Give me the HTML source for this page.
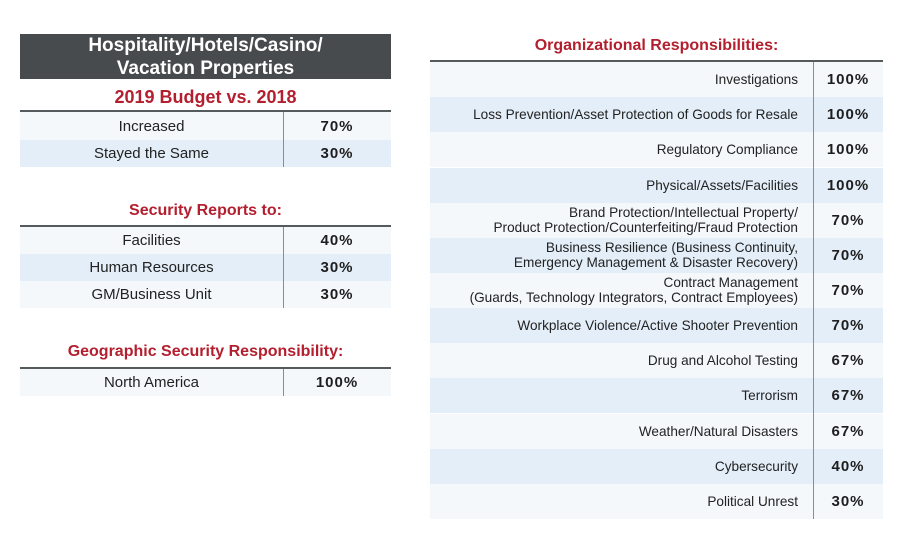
<!DOCTYPE html>
<html>
<head>
<meta charset="utf-8">
<style>
  html,body{margin:0;padding:0;background:#fff;}
  body{width:900px;height:550px;position:relative;overflow:hidden;font-family:"Liberation Sans",Arial,sans-serif;color:#222;}
  .abs{position:absolute;}
  .title{left:20px;top:34px;width:371px;height:45px;background:#474b4d;color:#fff;font-weight:bold;font-size:19px;line-height:23px;text-align:center;display:flex;flex-direction:column;justify-content:center;}
  .head{color:#b31f2e;font-weight:bold;text-align:center;white-space:nowrap;}
  .rule{height:2px;background:#555a5c;}
  .row{display:flex;align-items:center;}
  .lab{font-size:15px;text-align:center;color:#222;}
  .val{font-size:15px;font-weight:bold;text-align:center;letter-spacing:1px;color:#1e1e1e;}
  .rlab{font-size:13.6px;text-align:right;line-height:15px;color:#222;white-space:nowrap;}
  .l{background:#f4f8fb;}
  .b{background:#e3eef8;}
  .vline{width:1px;background:#8a8d90;}
</style>
</head>
<body>

<!-- Left title -->
<div class="abs title"><div>Hospitality/Hotels/Casino/</div><div>Vacation Properties</div></div>

<!-- 2019 Budget -->
<div class="abs head" style="left:20px;width:371px;top:86px;font-size:18px;line-height:22px;">2019 Budget vs. 2018</div>
<div class="abs rule" style="left:20px;width:371px;top:110px;"></div>
<div class="abs row l" style="left:20px;width:371px;top:112px;height:28px;">
  <div class="lab" style="width:263px;">Increased</div><div class="val" style="width:108px;">70%</div></div>
<div class="abs row b" style="left:20px;width:371px;top:140px;height:27px;">
  <div class="lab" style="width:263px;">Stayed the Same</div><div class="val" style="width:108px;">30%</div></div>
<div class="abs vline" style="left:283px;top:112px;height:55px;"></div>

<!-- Security Reports -->
<div class="abs head" style="left:20px;width:371px;top:201px;font-size:16px;line-height:20px;">Security Reports to:</div>
<div class="abs rule" style="left:20px;width:371px;top:225px;"></div>
<div class="abs row l" style="left:20px;width:371px;top:227px;height:27px;">
  <div class="lab" style="width:263px;">Facilities</div><div class="val" style="width:108px;">40%</div></div>
<div class="abs row b" style="left:20px;width:371px;top:254px;height:27px;">
  <div class="lab" style="width:263px;">Human Resources</div><div class="val" style="width:108px;">30%</div></div>
<div class="abs row l" style="left:20px;width:371px;top:281px;height:27px;">
  <div class="lab" style="width:263px;">GM/Business Unit</div><div class="val" style="width:108px;">30%</div></div>
<div class="abs vline" style="left:283px;top:227px;height:81px;"></div>

<!-- Geographic -->
<div class="abs head" style="left:20px;width:371px;top:342px;font-size:16px;line-height:20px;">Geographic Security Responsibility:</div>
<div class="abs rule" style="left:20px;width:371px;top:367px;"></div>
<div class="abs row l" style="left:20px;width:371px;top:369px;height:27px;">
  <div class="lab" style="width:263px;">North America</div><div class="val" style="width:108px;">100%</div></div>
<div class="abs vline" style="left:283px;top:369px;height:27px;"></div>

<!-- Organizational Responsibilities -->
<div class="abs head" style="left:430px;width:453px;top:36px;font-size:16px;line-height:20px;">Organizational Responsibilities:</div>
<div class="abs rule" style="left:430px;width:453px;top:60px;"></div>

<div class="abs row l" style="left:430px;width:453px;top:62px;height:35.2px;">
  <div class="rlab" style="width:368px;">Investigations</div><div class="val" style="width:85px;padding-left:15px;box-sizing:border-box;width:85px;">100%</div></div>
<div class="abs row b" style="left:430px;width:453px;top:97.2px;height:35.1px;">
  <div class="rlab" style="width:368px;">Loss Prevention/Asset Protection of Goods for Resale</div><div class="val" style="width:85px;padding-left:15px;box-sizing:border-box;">100%</div></div>
<div class="abs row l" style="left:430px;width:453px;top:132.3px;height:35.2px;">
  <div class="rlab" style="width:368px;">Regulatory Compliance</div><div class="val" style="width:85px;padding-left:15px;box-sizing:border-box;">100%</div></div>
<div class="abs row b" style="left:430px;width:453px;top:167.5px;height:35.1px;">
  <div class="rlab" style="width:368px;">Physical/Assets/Facilities</div><div class="val" style="width:85px;padding-left:15px;box-sizing:border-box;">100%</div></div>
<div class="abs row l" style="left:430px;width:453px;top:202.6px;height:35.2px;">
  <div class="rlab" style="width:368px;">Brand Protection/Intellectual Property/<br>Product Protection/Counterfeiting/Fraud Protection</div><div class="val" style="width:85px;padding-left:15px;box-sizing:border-box;">70%</div></div>
<div class="abs row b" style="left:430px;width:453px;top:237.8px;height:35.1px;">
  <div class="rlab" style="width:368px;">Business Resilience (Business Continuity,<br>Emergency Management &amp; Disaster Recovery)</div><div class="val" style="width:85px;padding-left:15px;box-sizing:border-box;">70%</div></div>
<div class="abs row l" style="left:430px;width:453px;top:272.9px;height:35.2px;">
  <div class="rlab" style="width:368px;">Contract Management<br>(Guards, Technology Integrators, Contract Employees)</div><div class="val" style="width:85px;padding-left:15px;box-sizing:border-box;">70%</div></div>
<div class="abs row b" style="left:430px;width:453px;top:308.1px;height:35.1px;">
  <div class="rlab" style="width:368px;">Workplace Violence/Active Shooter Prevention</div><div class="val" style="width:85px;padding-left:15px;box-sizing:border-box;">70%</div></div>
<div class="abs row l" style="left:430px;width:453px;top:343.2px;height:35.2px;">
  <div class="rlab" style="width:368px;">Drug and Alcohol Testing</div><div class="val" style="width:85px;padding-left:15px;box-sizing:border-box;">67%</div></div>
<div class="abs row b" style="left:430px;width:453px;top:378.4px;height:35.1px;">
  <div class="rlab" style="width:368px;">Terrorism</div><div class="val" style="width:85px;padding-left:15px;box-sizing:border-box;">67%</div></div>
<div class="abs row l" style="left:430px;width:453px;top:413.5px;height:35.2px;">
  <div class="rlab" style="width:368px;">Weather/Natural Disasters</div><div class="val" style="width:85px;padding-left:15px;box-sizing:border-box;">67%</div></div>
<div class="abs row b" style="left:430px;width:453px;top:448.7px;height:35.1px;">
  <div class="rlab" style="width:368px;">Cybersecurity</div><div class="val" style="width:85px;padding-left:15px;box-sizing:border-box;">40%</div></div>
<div class="abs row l" style="left:430px;width:453px;top:483.8px;height:35.2px;">
  <div class="rlab" style="width:368px;">Political Unrest</div><div class="val" style="width:85px;padding-left:15px;box-sizing:border-box;">30%</div></div>
<div class="abs vline" style="left:813px;top:62px;height:457px;"></div>

</body>
</html>
